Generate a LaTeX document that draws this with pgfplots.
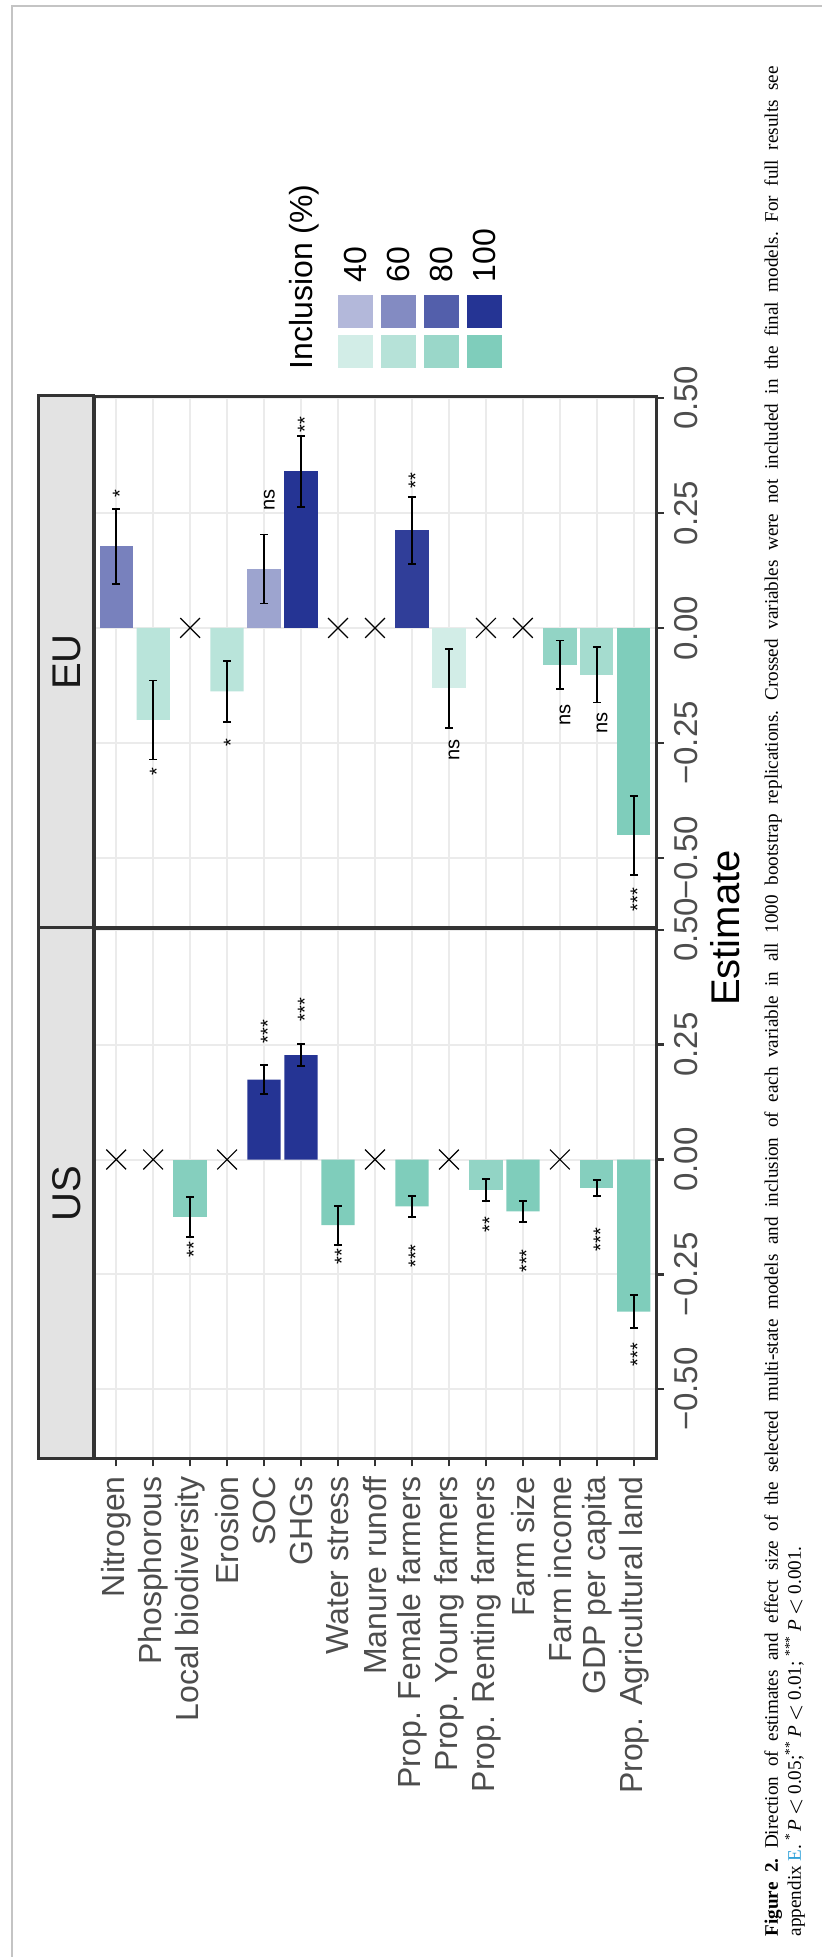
\documentclass[border=0pt]{standalone}
\usepackage{graphicx}
\usepackage{pgfplots}
\usepackage{pgfplotstable}
\pgfplotsset{compat=1.18}
\usepackage{fontspec}
\setmainfont{Liberation Sans}
\newfontfamily\capfont{Liberation Serif}

\definecolor{ggB}{HTML}{253494}
\definecolor{ggG}{HTML}{7FCDBB}
\definecolor{ggrid}{HTML}{EBEBEB}
\definecolor{ggtext}{HTML}{4D4D4D}
\definecolor{ggframe}{HTML}{333333}
\definecolor{stripfill}{HTML}{E3E3E3}
\definecolor{pageline}{HTML}{C4C4C4}
\definecolor{linkblue}{HTML}{2B9FD8}

\newcommand\fs[1]{\fontsize{#1}{#1}\selectfont}

% significance labels (position on the estimate axis, variable index)
\pgfplotstableread{
x y lab
-0.196 2 **
0.279 4 ***
0.327 5 ***
-0.212 6 **
-0.210 8 ***
-0.142 10 **
-0.221 11 ***
-0.174 13 ***
-0.425 14 ***
}\usstars
\pgfplotstableread{
x y lab
0.293 0 *
-0.313 1 *
-0.250 3 *
0.278 4 ns
0.442 5 **
0.321 8 **
-0.265 9 ns
-0.189 12 ns
-0.207 13 ns
-0.590 14 ***
}\eustars

\pgfplotsset{
  facet/.style={
    scale only axis, width=53.1mm, height=56.2mm, anchor=south west,
    xmin=-0.652, xmax=0.504, ymin=-0.6, ymax=14.6, y dir=reverse,
    xtick={-0.5,-0.25,0,0.25,0.5},
    xticklabels={−0.50,−0.25,0.00,0.25,0.50},
    ytick={0,...,14},
    grid=major, major grid style={line width=0.2mm, ggrid},
    axis line style={line width=0.3mm, ggframe},
    tick align=outside, major tick length=0.75mm,
    tick style={line width=0.25mm, ggframe},
    xticklabel style={font=\fs{9.4}, text=ggtext, inner sep=0pt, anchor=north},
    xticklabel shift=1mm,
    yticklabel style={font=\fs{9.1}, text=ggtext, inner sep=0pt, anchor=east},
    yticklabel shift=0.9mm,
    clip=false,
  },
  ggbar/.style={xbar, bar width=0.9, bar shift=0pt, draw=none, fill=#1,
    error bars/x dir=both, error bars/x explicit,
    error bars/error mark=|,
    error bars/error bar style={line width=0.17mm, black},
    error bars/error mark options={line width=0.17mm, black, mark size=0.4mm}},
  crossed/.style={only marks, mark=x, mark size=1.4mm,
    mark options={line width=0.12mm, black}},
  stars/.style={draw=none, mark=none, nodes near coords,
    point meta=explicit symbolic,
    nodes near coords style={anchor=base, yshift=-1.05mm, inner sep=0pt,
      font=\fs{5.7}, text=black}},
}

\begin{document}
\rotatebox{90}{%
\begin{tikzpicture}
\useasboundingbox (0,0) rectangle (195.7mm,82.2mm);

% US panel
\begin{axis}[facet, at={(49.8mm,16.6mm)}, width=53.1mm,
  yticklabels={Nitrogen, Phosphorous, Local biodiversity, Erosion, SOC, GHGs,
    Water stress, Manure runoff, Prop. Female farmers, Prop. Young farmers,
    Prop. Renting farmers, Farm size, Farm income, GDP per capita,
    Prop. Agricultural land}]
\addplot[ggbar=ggG!95!white] coordinates {(-0.125,2) +- (0.043,0)};
\addplot[ggbar=ggB] coordinates {(0.174,4) +- (0.032,0) (0.227,5) +- (0.024,0)};
\addplot[ggbar=ggG] coordinates {(-0.143,6) +- (0.0425,0) (-0.102,8) +- (0.0225,0)
  (-0.113,11) +- (0.0225,0) (-0.331,14) +- (0.036,0)};
\addplot[ggbar=ggG!85!white] coordinates {(-0.067,10) +- (0.024,0)};
\addplot[ggbar=ggG!95!white] coordinates {(-0.062,13) +- (0.017,0)};
\addplot[crossed] coordinates {(0,0) (0,1) (0,3) (0,7) (0,9) (0,12)};
\addplot[stars] table[meta=lab] {\usstars};
\end{axis}

% EU panel
\begin{axis}[facet, at={(102.9mm,16.6mm)}, width=53.2mm,
  yticklabels={}, y tick style={draw=none}]
\addplot[ggbar=ggB!62!white] coordinates {(0.177,0) +- (0.081,0)};
\addplot[ggbar=ggG!55!white] coordinates {(-0.200,1) +- (0.086,0) (-0.138,3) +- (0.066,0)};
\addplot[ggbar=ggB!45!white] coordinates {(0.128,4) +- (0.075,0)};
\addplot[ggbar=ggB] coordinates {(0.340,5) +- (0.077,0)};
\addplot[ggbar=ggB!95!white] coordinates {(0.212,8) +- (0.0725,0)};
\addplot[ggbar=ggG!35!white] coordinates {(-0.131,9) +- (0.086,0)};
\addplot[ggbar=ggG!85!white] coordinates {(-0.080,12) +- (0.053,0)};
\addplot[ggbar=ggG!70!white] coordinates {(-0.102,13) +- (0.060,0)};
\addplot[ggbar=ggG] coordinates {(-0.451,14) +- (0.086,0)};
\addplot[crossed] coordinates {(0,2) (0,6) (0,7) (0,10) (0,11)};
\addplot[stars] table[meta=lab] {\eustars};
\end{axis}

\begin{scope}[x=0.1mm,y=0.1mm]
  % page edge
  \draw[pageline, line width=0.2mm] (0,810) -- (1951,810) -- (1951,0);
  % facet strips
  \draw[fill=stripfill, draw=ggframe, line width=0.3mm] (498,728) rectangle (1029,783);
  \draw[fill=stripfill, draw=ggframe, line width=0.3mm] (1029,728) rectangle (1561,783);
  \node[font=\fs{11.4}, text=black!90] at (763.5,755.5) {US};
  \node[font=\fs{11.4}, text=black!90] at (1295,755.5) {EU};
  % axis title
  \node[anchor=base, font=\fs{11.4}, inner sep=0pt] at (1029,82) {Estimate};
  % legend
  \node[anchor=base west, font=\fs{9.1}, inner sep=0pt] at (1587,509) {Inclusion (\%)};
  \foreach \lab/\t/\a in {40/338/35, 60/381/57, 80/424/79, 100/467/100} {
    \fill[ggG!\a!white] (1589,822-\t-35) rectangle (1622,822-\t);
    \fill[ggB!\a!white] (1629,822-\t-35) rectangle (1662,822-\t);
    \node[anchor=west, font=\fs{9.1}, inner sep=0pt] at (1674,822-\t-17.5) {\lab};
  }
  % caption
  \node[anchor=base west, inner sep=0pt] at (20,44) {\capfont\fs{5.45}\frenchspacing\makebox[187mm][s]{\textbf{Figure 2.} Direction of estimates and effect size of the selected multi-state models and inclusion of each variable in all 1000 bootstrap replications. Crossed variables were not included in the final models. For full results see}};
  \node[anchor=base west, inner sep=0pt] at (20,21) {\capfont\fs{5.45}appendix \textcolor{linkblue}{E}. \textsuperscript{*}\textit{P}\,$<$\,0.05;\textsuperscript{**}\,\textit{P}\,$<$\,0.01; \textsuperscript{***}\,\textit{P}\,$<$\,0.001.};
\end{scope}
\end{tikzpicture}}
\end{document}
